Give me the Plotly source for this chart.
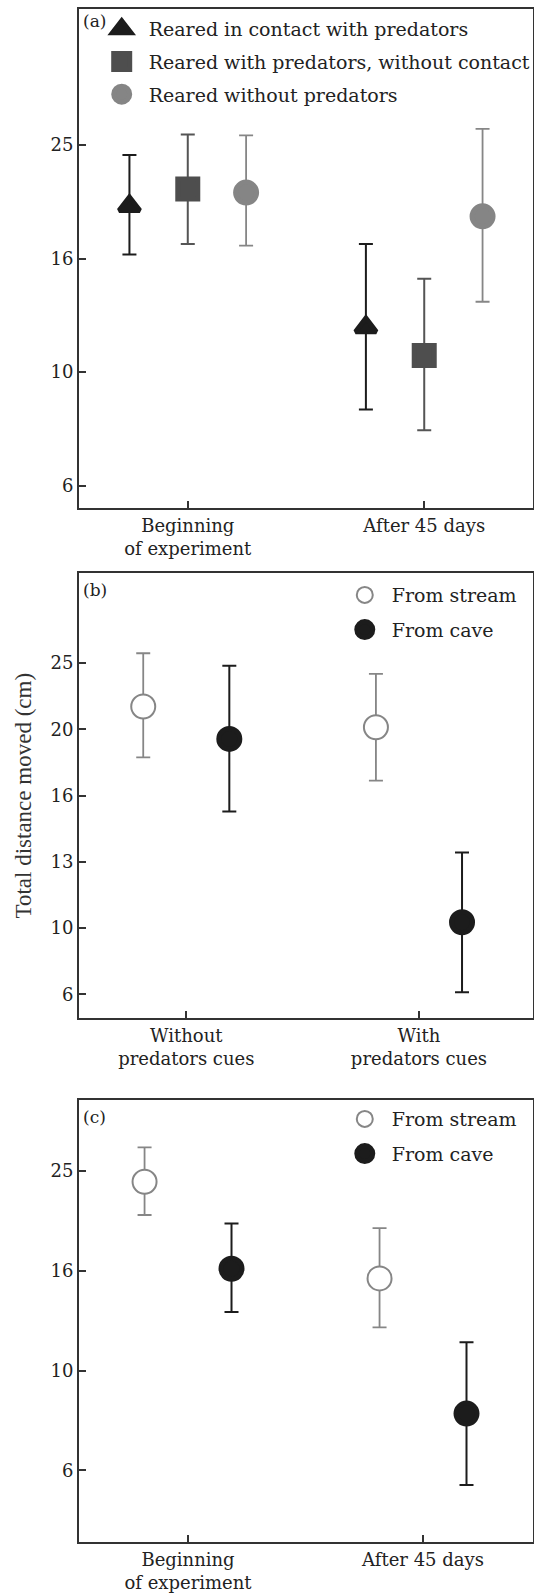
import plotly.graph_objects as go
from plotly.subplots import make_subplots

# ---------------- data (cm) ----------------
categories_a = ["Beginning<br>of experiment", "After 45 days"]
categories_b = ["Without<br>predators cues", "With<br>predators cues"]
categories_c = ["Beginning<br>of experiment", "After 45 days"]

# (a) rearing treatments: mean, upper and lower whisker ends
contact_mean = [19.6, 12.0]
contact_upper = [24.1, 16.8]
contact_lower = [16.1, 8.6]

nocontact_mean = [21.0, 10.7]
nocontact_upper = [26.2, 14.6]
nocontact_lower = [16.8, 7.9]

nopred_mean = [20.7, 18.8]
nopred_upper = [26.1, 26.8]
nopred_lower = [16.7, 13.3]

# (b) predator cues
stream_b_mean = [21.6, 20.1]
stream_b_upper = [26.0, 24.2]
stream_b_lower = [18.1, 16.7]

cave_b_mean = [19.3, 10.2]
cave_b_upper = [24.9, 13.0]
cave_b_lower = [15.0, 8.0]

# (c) time
stream_c_mean = [23.9, 15.3]
stream_c_upper = [28.0, 19.3]
stream_c_lower = [20.5, 12.2]

cave_c_mean = [16.0, 8.2]
cave_c_upper = [19.7, 11.4]
cave_c_lower = [13.1, 5.9]

# y tick labels (log10 axis)
tick_exp_ac = [0.8, 1.0, 1.2, 1.4]
tick_text_ac = ["6", "10", "16", "25"]
tick_exp_b = [0.9, 1.0, 1.1, 1.2, 1.3, 1.4]
tick_text_b = ["6", "10", "13", "16", "20", "25"]

# ---------------- styling ----------------
SERIF = "DejaVu Serif"
TXT = "#222222"
BLACK = "#1c1c1c"
DARK = "#4e4e4e"
GREY = "#868686"


def err(mean, upper, lower, color, thick):
    return dict(type="data", symmetric=False,
                array=[u - m for u, m in zip(upper, mean)],
                arrayminus=[m - l for m, l in zip(mean, lower)],
                color=color, thickness=thick, width=7)


def filled(symbol, size, color):
    # a same-colour outline enlarges the symbol (also in the legend key)
    return dict(symbol=symbol, size=size, color=color, line=dict(color=color, width=5))


def hollow(size):
    return dict(symbol="circle", size=size, color="white", line=dict(color=GREY, width=2))


fig = make_subplots(rows=3, cols=1)

def add(name, cats, mean, upper, lower, marker, ecolor, ethick, row, legend, group):
    fig.add_trace(go.Scatter(
        x=cats, y=mean, name=name, mode="markers", marker=marker,
        error_y=err(mean, upper, lower, ecolor, ethick),
        offsetgroup=group, legendgroup=group, legend=legend,
        cliponaxis=False), row=row, col=1)

add("Reared in contact with predators", categories_a, contact_mean, contact_upper, contact_lower,
    filled("triangle-up", 18, BLACK), BLACK, 2, 1, "legend", "a1")
add("Reared with predators, without contact", categories_a, nocontact_mean, nocontact_upper, nocontact_lower,
    filled("square", 20, DARK), "#555555", 2, 1, "legend", "a2")
add("Reared without predators", categories_a, nopred_mean, nopred_upper, nopred_lower,
    filled("circle", 21, "#858585"), GREY, 1.8, 1, "legend", "a3")

add("From stream", categories_b, stream_b_mean, stream_b_upper, stream_b_lower,
    hollow(24), GREY, 1.8, 2, "legend2", "b1")
add("From cave", categories_b, cave_b_mean, cave_b_upper, cave_b_lower,
    filled("circle", 21, BLACK), BLACK, 2, 2, "legend2", "b2")

add("From stream", categories_c, stream_c_mean, stream_c_upper, stream_c_lower,
    hollow(24), GREY, 1.8, 3, "legend3", "c1")
add("From cave", categories_c, cave_c_mean, cave_c_upper, cave_c_lower,
    filled("circle", 21, BLACK), BLACK, 2, 3, "legend3", "c2")

axis_common = dict(showline=True, linecolor="#333333", linewidth=2, mirror=True,
                   ticks="inside", ticklen=7, tickwidth=2, tickcolor="#333333",
                   showgrid=False, zeroline=False,
                   tickfont=dict(family=SERIF, size=18, color=TXT))

fig.update_layout(
    width=534, height=1593,
    margin=dict(l=79, r=1, t=9, b=51, autoexpand=False),
    plot_bgcolor="white", paper_bgcolor="white",
    scattermode="group", scattergap=0.26,
    showlegend=True,
    xaxis=dict(axis_common, type="category", range=[-0.46, 1.46], domain=[0, 1]),
    xaxis2=dict(axis_common, type="category", range=[-0.461, 1.49], domain=[0, 1]),
    xaxis3=dict(axis_common, type="category", range=[-0.464, 1.468], domain=[0, 1]),
    yaxis=dict(axis_common, type="log", range=[0.761, 1.639], domain=[0.6745, 1.0],
               tickvals=[10 ** e for e in tick_exp_ac], ticktext=tick_text_ac),
    yaxis2=dict(axis_common, type="log", range=[0.864, 1.5355], domain=[0.3418, 0.6318],
                tickvals=[10 ** e for e in tick_exp_b], ticktext=tick_text_b,
                title=dict(text="Total distance moved (cm)", standoff=12,
                           font=dict(family="Liberation Serif", size=23, color="#333333"))),
    yaxis3=dict(axis_common, type="log", range=[0.6565, 1.543], domain=[0.0, 0.2886],
                tickvals=[10 ** e for e in tick_exp_ac], ticktext=tick_text_ac),
    legend=dict(x=0.0346, y=0.9994, xanchor="left", yanchor="top", itemwidth=44,
                tracegroupgap=5, bgcolor="rgba(0,0,0,0)",
                font=dict(family=SERIF, size=19, color=TXT)),
    legend2=dict(x=0.570, y=0.6301, xanchor="left", yanchor="top", itemwidth=44,
                 tracegroupgap=7, bgcolor="rgba(0,0,0,0)",
                 font=dict(family=SERIF, size=19, color=TXT)),
    legend3=dict(x=0.570, y=0.2883, xanchor="left", yanchor="top", itemwidth=44,
                 tracegroupgap=7, bgcolor="rgba(0,0,0,0)",
                 font=dict(family=SERIF, size=19, color=TXT)),
)

for lab, xr, yr, yy in [("(a)", "x domain", "y domain", 1.0),
                        ("(b)", "x2 domain", "y2 domain", 0.99),
                        ("(c)", "x3 domain", "y3 domain", 0.988)]:
    fig.add_annotation(text=lab, xref=xr, yref=yr, x=0.004, y=yy,
                       xanchor="left", yanchor="top", showarrow=False,
                       font=dict(family=SERIF, size=17, color=TXT))

fig.write_html("out.html", config={"displayModeBar": False},
               post_script="document.body.style.margin='0';document.body.style.padding='0';")
